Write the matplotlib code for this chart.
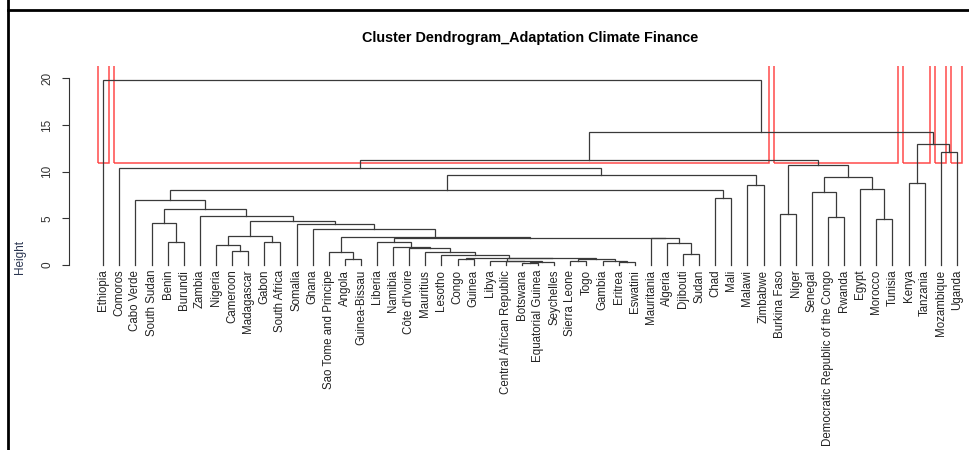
import matplotlib.pyplot as plt
from matplotlib.lines import Line2D
from matplotlib.patches import Rectangle

plt.rcParams['font.family'] = ['Liberation Sans', 'DejaVu Sans']

# LEAF ORDER, LEFT TO RIGHT
countries = ['Ethiopia', 'Comoros', 'Cabo Verde', 'South Sudan', 'Benin', 'Burundi', 'Zambia',
             'Nigeria', 'Cameroon', 'Madagascar', 'Gabon', 'South Africa', 'Somalia', 'Ghana',
             'Sao Tome and Principe', 'Angola', 'Guinea-Bissau', 'Liberia', 'Namibia',
             "Côte d'Ivoire", 'Mauritius', 'Lesotho', 'Congo', 'Guinea', 'Libya',
             'Central African Republic', 'Botswana', 'Equatorial Guinea', 'Seychelles',
             'Sierra Leone', 'Togo', 'Gambia', 'Eritrea', 'Eswatini', 'Mauritania', 'Algeria',
             'Djibouti', 'Sudan', 'Chad', 'Mali', 'Malawi', 'Zimbabwe', 'Burkina Faso', 'Niger',
             'Senegal', 'Democratic Republic of the Congo', 'Rwanda', 'Egypt', 'Morocco',
             'Tunisia', 'Kenya', 'Tanzania', 'Mozambique', 'Uganda']

# MERGES - (left, right, height); a string is a country, an int is an earlier merge row
merges = [
    ('Benin', 'Burundi', 2.5),                          # 0
    ('South Sudan', 0, 4.46),                           # 1
    ('Cameroon', 'Madagascar', 1.5),                    # 2
    ('Nigeria', 2, 2.1),                                # 3
    ('Gabon', 'South Africa', 2.5),                     # 4
    (3, 4, 3.14),                                       # 5
    ('Angola', 'Guinea-Bissau', 0.6),                   # 6
    ('Sao Tome and Principe', 6, 1.43),                 # 7
    ('Congo', 'Guinea', 0.64),                          # 8
    ('Botswana', 'Equatorial Guinea', 0.18),            # 9
    (9, 'Seychelles', 0.3),                             # 10
    ('Central African Republic', 10, 0.38),             # 11
    ('Libya', 11, 0.45),                                # 12
    ('Sierra Leone', 'Togo', 0.43),                     # 13
    ('Eritrea', 'Eswatini', 0.35),                      # 14
    ('Gambia', 14, 0.42),                               # 15
    (13, 15, 0.6),                                      # 16
    (12, 16, 0.75),                                     # 17
    (8, 17, 0.8),                                       # 18
    ('Lesotho', 18, 1.04),                              # 19
    ('Mauritius', 19, 1.36),                            # 20
    ("Côte d'Ivoire", 20, 1.85),                        # 21
    ('Namibia', 21, 1.96),                              # 22
    ('Liberia', 22, 2.5),                               # 23
    ('Djibouti', 'Sudan', 1.14),                        # 24
    ('Algeria', 24, 2.39),                              # 25
    ('Mauritania', 25, 2.86),                           # 26
    (23, 26, 2.89),                                     # 27
    (7, 27, 3.0),                                       # 28
    ('Ghana', 28, 3.82),                                # 29
    ('Somalia', 29, 4.36),                              # 30
    (5, 30, 4.71),                                      # 31
    ('Zambia', 31, 5.21),                               # 32
    (1, 32, 5.96),                                      # 33
    ('Cabo Verde', 33, 6.96),                           # 34
    ('Chad', 'Mali', 7.18),                             # 35
    (34, 35, 8.0),                                      # 36
    ('Malawi', 'Zimbabwe', 8.57),                       # 37
    (36, 37, 9.64),                                     # 38
    ('Comoros', 38, 10.36),                             # 39
    ('Burkina Faso', 'Niger', 5.43),                    # 40
    ('Democratic Republic of the Congo', 'Rwanda', 5.11),  # 41
    ('Senegal', 41, 7.85),                              # 42
    ('Morocco', 'Tunisia', 4.9),                        # 43
    ('Egypt', 43, 8.1),                                 # 44
    (42, 44, 9.4),                                      # 45
    (40, 45, 10.68),                                    # 46
    (39, 46, 11.25),                                    # 47
    ('Kenya', 'Tanzania', 8.75),                        # 48
    ('Mozambique', 'Uganda', 12.07),                    # 49
    (48, 49, 13.0),                                     # 50
    (47, 50, 14.25),                                    # 51
    ('Ethiopia', 51, 19.8),                             # 52
]

# NUMBER OF CLUSTERS BOXED (rect.hclust k)
k = 6

# ------------- TREE LAYOUT --------------
leaf_pos = {c: i for i, c in enumerate(countries)}
node_x = []


def xy(c):
    if isinstance(c, str):
        return leaf_pos[c], 0.0
    return node_x[c], merges[c][2]


def leaves(c):
    if isinstance(c, str):
        return [leaf_pos[c]]
    return leaves(merges[c][0]) + leaves(merges[c][1])


for left, right, h in merges:
    node_x.append((xy(left)[0] + xy(right)[0]) / 2)

# ------------- PLOTTING --------------
fig = plt.figure(figsize=(9.7, 4.5), dpi=100)
ax = fig.add_axes([0.07124, 0.00444, 0.95041, 0.84889])
ax.set_xlim(-2.12, 55.12)
ax.set_ylim(-19.6, 21.32)

line_col = '#3a3a3a'
for left, right, h in merges:
    (xl, hl), (xr, hr) = xy(left), xy(right)
    ax.plot([xl, xl, xr, xr], [hl, h, h, hr], color=line_col, lw=0.9, solid_joinstyle='miter')

# LEAF LABELS
for c, i in leaf_pos.items():
    ax.text(i, -0.5, c, rotation=90, ha='center', va='top', fontsize=8.3, color='#222222')

# RED CLUSTER BOXES
heights = sorted([m[2] for m in merges], reverse=True)
cut = (heights[k - 2] + heights[k - 1]) / 2


def clusters(c):
    if isinstance(c, str) or merges[c][2] < cut:
        return [leaves(c)]
    return clusters(merges[c][0]) + clusters(merges[c][1])


for grp in clusters(len(merges) - 1):
    lo, hi = min(grp) - 0.34, max(grp) + 0.33
    ax.add_patch(Rectangle((lo, cut), hi - lo, 30, fill=False, edgecolor='#ff4a4a', lw=1.1))

# AXES STYLE (R base look)
for s in ['top', 'right', 'bottom']:
    ax.spines[s].set_visible(False)
ax.spines['left'].set_bounds(0, 20)
ax.spines['left'].set_color('#333333')
ax.spines['left'].set_linewidth(0.8)
ax.set_xticks([])
ax.set_yticks([0, 5, 10, 15, 20])
ax.tick_params(axis='y', labelrotation=90, length=5.3, pad=6, labelsize=8.5,
               width=0.8, color='#333333', labelcolor='#333333')
for t in ax.get_yticklabels():
    t.set_va('center')
ax.set_ylabel('Height', fontsize=8.5, color='#2a3550')
ax.yaxis.set_label_coords(-0.047, 0.5)

fig.text(530 / 970, 1 - 38 / 450, 'Cluster Dendrogram_Adaptation Climate Finance',
         ha='center', va='center', fontsize=10.4, fontweight='bold')

# SCREENSHOT FRAME
fig.add_artist(Line2D([8 / 970, 8 / 970], [0, 1], transform=fig.transFigure, color='black', lw=2))
fig.add_artist(Line2D([8 / 970, 1], [1 - 10 / 450, 1 - 10 / 450], transform=fig.transFigure,
                      color='black', lw=2))

fig.savefig('out.png', dpi=100)
